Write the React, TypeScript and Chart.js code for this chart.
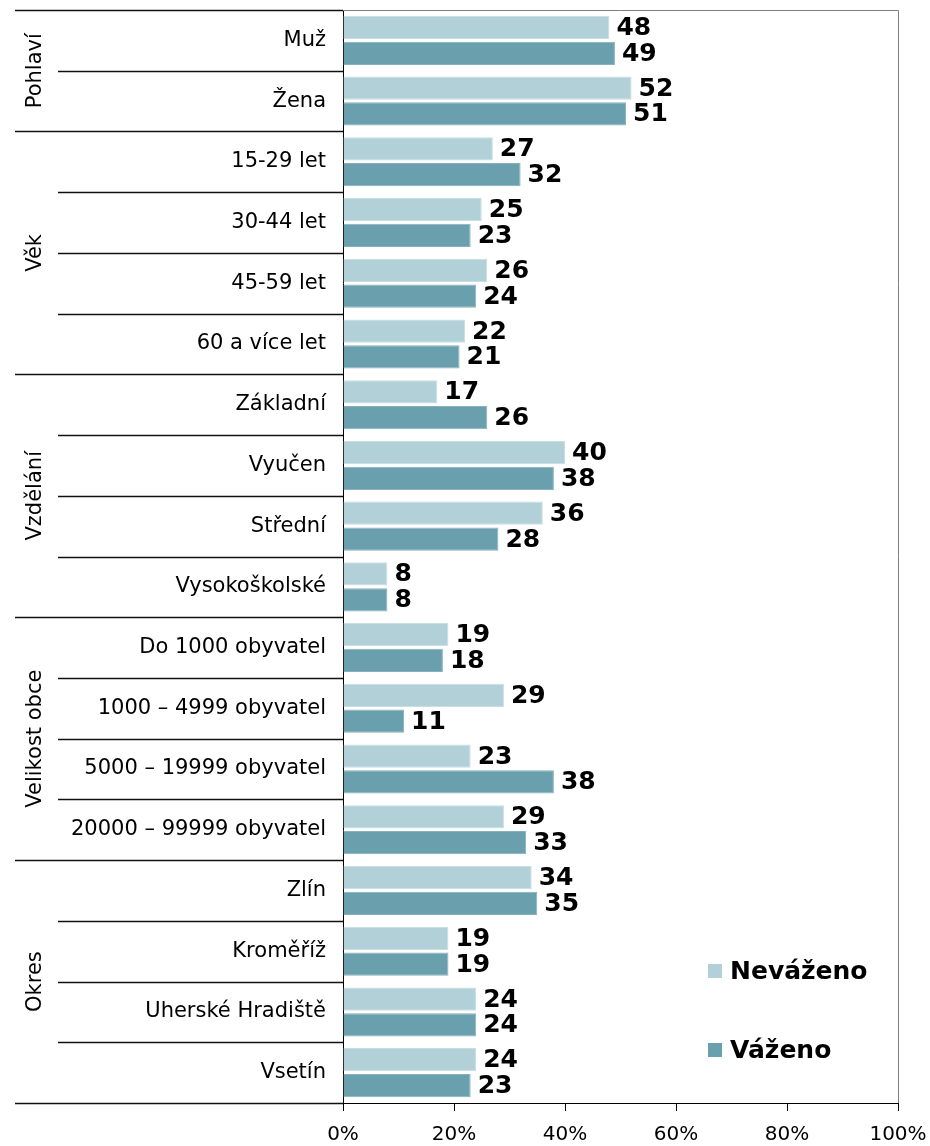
import React, { useEffect, useRef } from "react";
import { Chart, registerables } from "chart.js";

Chart.register(...registerables);

const categories = [
  "Muž", "Žena",
  "15-29 let", "30-44 let", "45-59 let", "60 a více let",
  "Základní", "Vyučen", "Střední", "Vysokoškolské",
  "Do 1000 obyvatel", "1000 – 4999 obyvatel", "5000 – 19999 obyvatel", "20000 – 99999 obyvatel",
  "Zlín", "Kroměříž", "Uherské Hradiště", "Vsetín",
];
const nevazeno = [48, 52, 27, 25, 26, 22, 17, 40, 36, 8, 19, 29, 23, 29, 34, 19, 24, 24];
const vazeno = [49, 51, 32, 23, 24, 21, 26, 38, 28, 8, 18, 11, 38, 33, 35, 19, 24, 23];
const groups = ["Pohlaví", "Věk", "Vzdělání", "Velikost obce", "Okres"];
const groupSizes = [2, 4, 4, 4, 4];
const seriesLabels = ["Neváženo", "Váženo"];
const xTicks = [0, 20, 40, 60, 80, 100];

const FONT = "'DejaVu Sans', Verdana, sans-serif";
const LIGHT = "#B2D0D7";
const DARK = "#6A9FAD";

export default function App() {
  const ref = useRef<HTMLCanvasElement | null>(null);

  useEffect(() => {
    document.body.style.margin = "0";
    const canvas = ref.current;
    if (!canvas) return;

    const decor = {
      id: "decor",
      afterDraw(chart: any) {
        const ctx = chart.ctx;
        const a = chart.chartArea;
        const n = categories.length;
        const rowH = (a.bottom - a.top) / n;
        ctx.save();
        // top & right border
        ctx.strokeStyle = "#7f7f7f";
        ctx.lineWidth = 1;
        ctx.beginPath();
        ctx.moveTo(a.left, a.top + 0.5);
        ctx.lineTo(a.right + 0.5, a.top + 0.5);
        ctx.lineTo(a.right + 0.5, a.bottom);
        ctx.stroke();
        // separators
        ctx.strokeStyle = "#111";
        ctx.lineWidth = 1.5;
        let idx = 0;
        const groupStarts: number[] = [];
        groupSizes.forEach((s) => { groupStarts.push(idx); idx += s; });
        for (let i = 0; i <= n; i++) {
          const y = Math.round(a.top + i * rowH) + 0.5;
          const isGroup = i === n || groupStarts.indexOf(i) >= 0;
          ctx.beginPath();
          ctx.moveTo(isGroup ? 15 : 58, y);
          ctx.lineTo(a.left, y);
          ctx.stroke();
        }
        // group labels
        ctx.fillStyle = "#000";
        ctx.font = `21px ${FONT}`;
        ctx.textAlign = "center";
        ctx.textBaseline = "middle";
        groups.forEach((g, gi) => {
          const start = groupStarts[gi];
          const cy = a.top + (start + groupSizes[gi] / 2) * rowH;
          ctx.save();
          ctx.translate(36, cy);
          ctx.rotate(-Math.PI / 2);
          ctx.fillText(g, 0, 0);
          ctx.restore();
        });
        // data labels
        ctx.font = `bold 25px ${FONT}`;
        ctx.textAlign = "left";
        chart.data.datasets.forEach((ds: any, di: number) => {
          const meta = chart.getDatasetMeta(di);
          meta.data.forEach((bar: any, i: number) => {
            ctx.fillText(String(ds.data[i]), bar.x + 7, bar.y + 1);
          });
        });
        // legend
        const legendY = [971, 1050];
        chart.data.datasets.forEach((ds: any, di: number) => {
          const y = legendY[di];
          ctx.fillStyle = ds.backgroundColor;
          ctx.fillRect(708, y - 7, 14, 14);
          ctx.fillStyle = "#000";
          ctx.font = `bold 25px ${FONT}`;
          ctx.fillText(ds.label, 730, y + 1);
        });
        ctx.restore();
      },
    };

    const chart = new Chart(canvas, {
      type: "bar",
      data: {
        labels: categories,
        datasets: [
          { label: seriesLabels[0], data: nevazeno, backgroundColor: LIGHT, borderColor: "#C9DEE3", borderWidth: 1, categoryPercentage: 0.85, barPercentage: 0.9 },
          { label: seriesLabels[1], data: vazeno, backgroundColor: DARK, borderColor: "#86B1BD", borderWidth: 1, categoryPercentage: 0.85, barPercentage: 0.9 },
        ],
      },
      options: {
        indexAxis: "y",
        animation: false,
        responsive: false,
        maintainAspectRatio: false,
        layout: { padding: { top: 10, right: 32, left: 0, bottom: 0 } },
        plugins: { legend: { display: false }, tooltip: { enabled: false } },
        scales: {
          x: {
            min: 0,
            max: 100,
            afterBuildTicks: (s: any) => { s.ticks = xTicks.map((v) => ({ value: v })); },
            afterFit: (s: any) => { s.height = 43; s.paddingLeft = 0; s.paddingRight = 0; },
            ticks: { callback: (v: any) => `${v}%`, color: "#000", font: { family: FONT, size: 20 }, padding: 12, maxRotation: 0 },
            grid: { drawOnChartArea: false, drawTicks: true, tickLength: 8, color: "#000" },
            border: { display: true, color: "#000", width: 1 },
          },
          y: {
            afterFit: (s: any) => { s.width = 343; s.paddingTop = 0; s.paddingBottom = 0; },
            ticks: { color: "#000", font: { family: FONT, size: 21 }, padding: 17, autoSkip: false },
            grid: { drawOnChartArea: false, drawTicks: false },
            border: { display: true, color: "#000", width: 1 },
          },
        },
      },
      plugins: [decor],
    });
    return () => chart.destroy();
  }, []);

  return (
    <div style={{ width: 930, height: 1146 }}>
      <canvas ref={ref} width={930} height={1146} style={{ display: "block" }} />
    </div>
  );
}
